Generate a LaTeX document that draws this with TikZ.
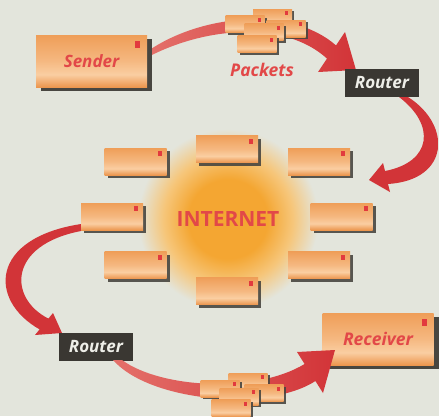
\documentclass[tikz,border=0pt]{standalone}
\usepackage{fontspec}
\setmainfont{Open Sans}
\usetikzlibrary{shadows}

\definecolor{paper}{RGB}{227,229,220}
\definecolor{envtop}{RGB}{239,158,88}
\definecolor{envlight}{RGB}{250,206,162}
\definecolor{envbot}{RGB}{236,150,78}
\definecolor{stamp}{RGB}{226,58,62}
\definecolor{boxshadow}{RGB}{72,70,64}
\definecolor{arrowred}{RGB}{210,52,56}
\definecolor{arrowlight}{RGB}{228,112,106}
\definecolor{labelred}{RGB}{226,72,72}
\definecolor{routerbg}{RGB}{58,55,50}
\definecolor{routertext}{RGB}{238,238,232}
\definecolor{glowcore}{RGB}{244,166,50}
\definecolor{glowmid}{RGB}{246,198,122}

% orange card fill: light band in the lower part
\pgfdeclareverticalshading{cardfill}{100bp}{color(0bp)=(envbot); color(25bp)=(envbot); color(37bp)=(envlight); color(50bp)=(envlight!55!envtop); color(75bp)=(envtop); color(100bp)=(envtop)}
% glow behind the word INTERNET
\pgfdeclareradialshading{glowfill}{\pgfpoint{0bp}{0bp}}{color(0bp)=(glowcore); color(11bp)=(glowcore); color(18bp)=(glowmid); color(25bp)=(paper); color(50bp)=(paper)}

\begin{document}
\begin{tikzpicture}[x=1pt,y=-1pt,
  card/.style={rectangle, inner sep=0pt, shading=cardfill},
  bigcard/.style={card, minimum width=111pt, minimum height=52pt,
    drop shadow={shadow xshift=5pt, shadow yshift=-4pt, fill=boxshadow, opacity=1},
    text=labelred, font=\fontsize{17}{19}\selectfont\bfseries\itshape,
    path picture={\fill[stamp] ([xshift=-7pt,yshift=-6pt]path picture bounding box.north east) rectangle ++(-5pt,-7pt);}},
  envcard/.style={card, minimum width=62pt, minimum height=27pt,
    drop shadow={shadow xshift=3pt, shadow yshift=-3pt, fill=boxshadow, opacity=0.9},
    path picture={\fill[stamp] ([xshift=-5pt,yshift=-3pt]path picture bounding box.north east) rectangle ++(-4pt,-5pt);}},
  packet/.style={card, minimum width=39pt, minimum height=17pt,
    drop shadow={shadow xshift=2pt, shadow yshift=-2pt, fill=boxshadow, opacity=0.9},
    path picture={\fill[stamp] ([xshift=-4pt,yshift=-2pt]path picture bounding box.north east) rectangle ++(-3pt,-4pt);}},
  router/.style={rectangle, fill=routerbg, minimum width=74pt, minimum height=28pt, inner sep=0pt,
    text=routertext, font=\fontsize{17}{19}\selectfont\bfseries\itshape},
  caption/.style={text=labelred, font=\fontsize{17.5}{19}\selectfont\bfseries\itshape},
  flow/.style={draw=none}
]
\fill[paper] (0,0) rectangle (439,416);
\useasboundingbox (0,0) rectangle (439,416);

% glow of the network
\coordinate (netc) at (228,219);
\shade[shading=glowfill] (netc) circle[radius=90pt];

% curved arrows (drawn first, cards sit on top)
\shade[flow, left color=arrowlight, right color=arrowred]
  (148,51) .. controls (200,15) and (290,5) .. (336,45.4) -- (345,32) -- (356,70) -- (318,72)
  -- (327,58.6) .. controls (285,20) and (205,27) .. (148,57) -- cycle;
\shade[flow, top color=arrowred, middle color=arrowlight, bottom color=arrowred]
  (408,97) .. controls (452,125) and (450,180) .. (388,184) -- (390,192) -- (369,180) -- (383,163)
  -- (385,171) .. controls (432,162) and (436,125) .. (399,97) -- cycle;
\shade[flow, top color=arrowred, middle color=arrowlight, bottom color=arrowred]
  (81,224) .. controls (-10,238) and (-12,300) .. (39.6,329.4) -- (35,335) -- (62,333) -- (53,313)
  -- (48.4,318.6) .. controls (8,298) and (8,245) .. (81,231) -- cycle;

% end points
\node[bigcard] (sender) at (91.5,61) {Sender};
\node[bigcard, font=\fontsize{17.5}{19}\selectfont\bfseries\itshape] (receiver) at (378,339) {Receiver};
\node[router] (r1) at (382,83) {Router};
\node[router] (r2) at (96,346.5) {Router};

\shade[flow, left color=arrowlight, right color=arrowred]
  (113,360) .. controls (150,402) and (268,412) .. (315.4,381) -- (323,393) -- (335,350) -- (297,352)
  -- (304.6,364) .. controls (255,394) and (160,388) .. (122,360) -- cycle;

% cards round the network
\node[envcard] (e1) at (135.5,161.5) {};
\node[envcard] (e2) at (227,149) {};
\node[envcard] (e3) at (319,161.5) {};
\node[envcard] (e4) at (112,216.5) {};
\node[envcard] (e5) at (341.5,216.5) {};
\node[envcard] (e6) at (135.5,265) {};
\node[envcard] (e7) at (227,291) {};
\node[envcard] (e8) at (319,265) {};
\node[text=labelred, font=\fontsize{21}{23}\selectfont\bfseries] (net) at (netc) {INTERNET};

% packets on the way out
\node[packet] (pa1) at (272.5,17.5) {};
\node[packet] (pa2) at (245,24) {};
\node[packet] (pa3) at (286,28.5) {};
\node[packet] (pa4) at (264,32) {};
\node[packet] (pa5) at (257,44) {};
\node[caption] (packets) at (262,70) {Packets};

% packets on the way in
\node[packet] (pb1) at (248,381.5) {};
\node[packet] (pb2) at (220,388.5) {};
\node[packet] (pb3) at (264,393) {};
\node[packet] (pb4) at (239,396.5) {};
\node[packet] (pb5) at (231,408) {};
\end{tikzpicture}
\end{document}
